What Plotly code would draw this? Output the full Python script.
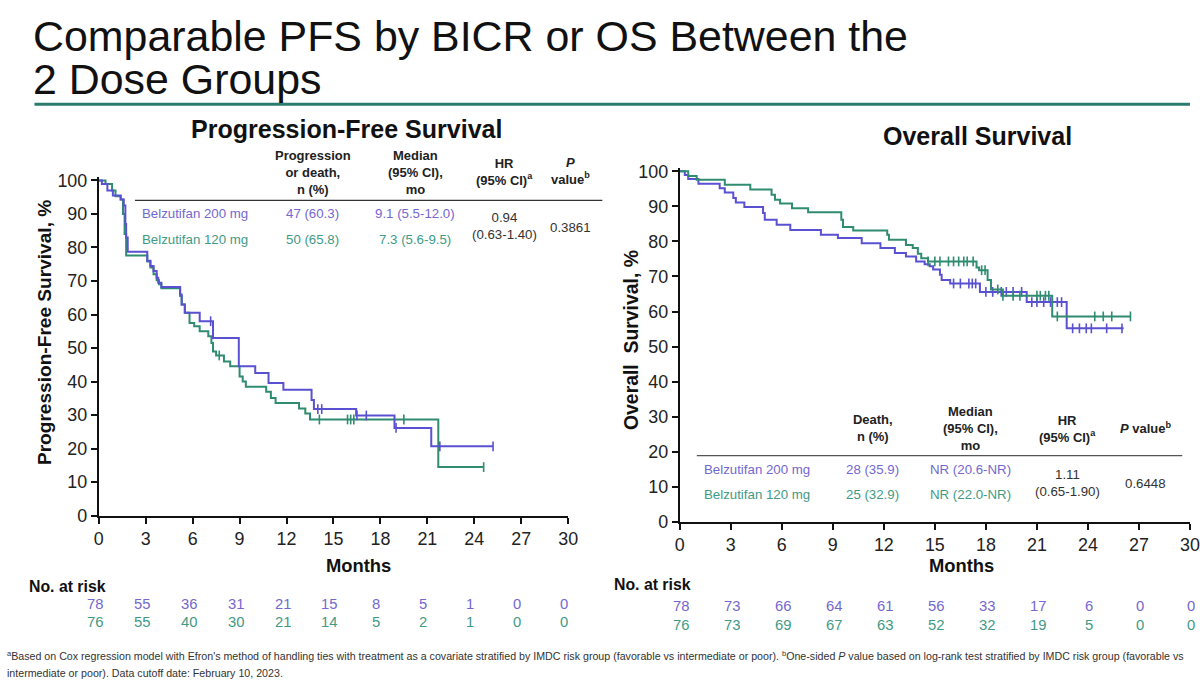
import numpy as np
import plotly.graph_objects as go

# ---------------- data ----------------
months_ticks = list(range(0, 31, 3))

# PFS – Belzutifan 200 mg
pfs200_t = [0, 0.2, 0.55, 0.9, 1.4, 1.6, 1.7, 1.75, 1.85, 3.1, 3.3, 3.5, 3.7, 3.8, 4.0, 5.2, 5.3, 5.5,
            6.45, 7.3, 8.95, 10.0, 10.85, 11.8, 13.6, 13.75, 16.45, 18.9, 21.25, 25.2]
pfs200_s = [100, 98.9, 97, 95.5, 94.3, 92.5, 87, 83, 78.7, 76, 74.5, 73, 71, 69.5, 68.2, 66, 63, 60.5,
            58, 53, 44.6, 42.6, 39.6, 37.6, 34.5, 31.8, 29.9, 26.2, 20.7, 20.7]
pfs200_cens = [7.15, 14.0, 14.25, 16.5, 17.1, 19.0, 21.8, 25.2]

# PFS – Belzutifan 120 mg
pfs120_t = [0, 0.43, 0.85, 1.07, 1.4, 1.55, 1.65, 1.75, 3.1, 3.3, 3.5, 3.7, 3.85, 4.0, 5.2, 5.3, 5.5, 5.8,
            6.1, 6.45, 7.0, 7.2, 7.3, 7.5, 8.0, 8.4, 9.0, 9.2, 9.4, 10.7, 11.0, 11.3, 12.8, 13.2, 13.5, 21.7, 24.6]
pfs120_s = [100, 98.9, 97, 95.3, 94.3, 90, 84, 77.6, 75.8, 74, 72, 70.2, 69, 67.8, 65.5, 63, 60.5, 57.5,
            56.5, 55, 53.5, 51.5, 49, 47.8, 46, 44.6, 41.5, 40, 38.5, 37.0, 35.1, 33.6, 32, 30.5, 28.7, 14.5, 14.5]
pfs120_cens = [7.7, 14.1, 15.9, 16.1, 16.3, 19.5, 24.6]

# OS – Belzutifan 200 mg
os200_t = [0, 0.3, 0.5, 1.1, 2.35, 2.65, 3.15, 3.3, 3.8, 4.9, 5.0, 5.7, 6.5, 8.3, 9.3, 10.7, 11.8, 12.65,
           13.3, 13.9, 14.4, 14.7, 14.9, 15.3, 15.4, 15.9, 17.65, 20.4, 22.75, 26.1]
os200_s = [100, 99, 97.8, 96.5, 95.2, 94, 92.4, 91.1, 89.8, 88.1, 86.2, 84.8, 83.3, 81.9, 81.0, 79.5, 78.1, 76.7,
           75.7, 74.3, 73.5, 72.9, 72, 70.5, 69, 68, 65.6, 62.7, 55.2, 55.2]
os200_cens = [16.1, 16.5, 17.0, 17.2, 17.4, 18.0, 18.4, 18.9, 19.2, 19.6, 20.1, 20.7, 21.0, 21.4, 21.8,
              22.2, 22.45, 23.1, 23.5, 23.9, 24.2, 25.1, 26.0]

# OS – Belzutifan 120 mg
os120_t = [0, 0.5, 1.0, 2.65, 4.15, 5.4, 5.6, 5.9, 6.6, 7.55, 9.5, 9.6, 10.2, 12.2, 12.3, 13.3, 13.7, 14.0,
           14.2, 14.6, 17.45, 17.6, 18.1, 18.3, 19.0, 21.9, 26.5]
os120_s = [100, 98.7, 97.6, 96.2, 94.8, 93.3, 91.9, 90.8, 89.5, 88.3, 86.2, 84.1, 83.1, 81.9, 80.5, 79, 78.1, 76.5,
           75.2, 74.3, 72.6, 71.8, 69, 66.3, 64.5, 58.6, 58.6]
os120_cens = [14.6, 15.0, 15.3, 15.8, 16.1, 16.4, 16.7, 16.9, 17.25, 17.75, 17.95, 18.7, 19.0, 19.6, 20.0,
              21.0, 21.2, 21.5, 21.7, 22.2, 24.4, 24.9, 25.4, 26.5]

pfs_risk_200 = [78, 55, 36, 31, 21, 15, 8, 5, 1, 0, 0]
pfs_risk_120 = [76, 55, 40, 30, 21, 14, 5, 2, 1, 0, 0]
os_risk_200 = [78, 73, 66, 64, 61, 56, 33, 17, 6, 0, 0]
os_risk_120 = [76, 73, 69, 67, 63, 52, 32, 19, 5, 0, 0]

pfs_table_rows = [["Belzutifan 200 mg", "47 (60.3)", "9.1 (5.5-12.0)"],
                  ["Belzutifan 120 mg", "50 (65.8)", "7.3 (5.6-9.5)"]]
pfs_hr = "0.94<br>(0.63-1.40)"
pfs_p = "0.3861"
os_table_rows = [["Belzutifan 200 mg", "28 (35.9)", "NR (20.6-NR)"],
                 ["Belzutifan 120 mg", "25 (32.9)", "NR (22.0-NR)"]]
os_hr = "1.11<br>(0.65-1.90)"
os_p = "0.6448"

title_lines = ["Comparable PFS by BICR or OS Between the", "2 Dose Groups"]
foot_lines = [
    "<sup>a</sup>Based on Cox regression model with Efron's method of handling ties with treatment as a covariate "
    "stratified by IMDC risk group (favorable vs intermediate or poor). <sup>b</sup>One-sided <i>P</i> value based "
    "on log-rank test stratified by IMDC risk group (favorable vs",
    "intermediate or poor). Data cutoff date: February 10, 2023.",
]

# ---------------- layout helpers ----------------
W, H = 1200, 697
# the returned picture maps page pixel p -> SX*p + OX (x) and SY*p + OY (y); positions below are
# given in picture pixels and converted back here
SX, OX = 0.9825, 5.7
SY, OY = 0.976, 6.8
FS = 1 / 0.979  # font scale compensation

FONT = "Liberation Sans, Arial, sans-serif"
C200 = "#5a50d2"
C120 = "#2f8c70"
T200 = "#7368cf"
T120 = "#3f9a86"
TEAL = "#2c7b6f"


def px_x(t):
    return min(max((t - OX) / SX / W, 0.0), 1.0)


def px_y(t):
    return min(max(1 - (t - OY) / SY / H, 0.0), 1.0)


def step_val(ts, ss, t):
    i = np.searchsorted(np.array(ts), t, side="right") - 1
    return ss[max(i, 0)]


fig = go.Figure()


def add_curve(ts, ss, cens, color, xa, ya):
    fig.add_trace(go.Scatter(x=ts, y=ss, mode="lines", line=dict(color=color, width=2, shape="hv"),
                             xaxis=xa, yaxis=ya, showlegend=False, hoverinfo="skip"))
    cy = [step_val(ts, ss, c) for c in cens]
    fig.add_trace(go.Scatter(x=cens, y=cy, mode="markers",
                             marker=dict(symbol="line-ns", size=7, line=dict(color=color, width=1.6)),
                             xaxis=xa, yaxis=ya, showlegend=False, hoverinfo="skip", cliponaxis=False))


add_curve(pfs120_t, pfs120_s, pfs120_cens, C120, "x", "y")
add_curve(pfs200_t, pfs200_s, pfs200_cens, C200, "x", "y")
add_curve(os200_t, os200_s, os200_cens, C200, "x2", "y2")
add_curve(os120_t, os120_s, os120_cens, C120, "x2", "y2")

axis_common = dict(showgrid=False, zeroline=False, showline=True, linecolor="#111", linewidth=2,
                   ticks="outside", ticklen=6, tickwidth=1.5, tickcolor="#111",
                   tickfont=dict(family=FONT, size=17.5 * FS, color="#222"))

pfs_x0, pfs_x30, pfs_bottom, pfs_top100 = 99, 566, 516, 181
os_x0, os_x30, os_bottom, os_top100 = 677, 1186, 522, 172
pfs_scale = (pfs_bottom - pfs_top100) / 100
os_scale = (os_bottom - os_top100) / 100

fig.update_layout(
    width=W, height=H, margin=dict(l=0, r=0, t=0, b=0),
    paper_bgcolor="white", plot_bgcolor="white",
    xaxis=dict(domain=[px_x(pfs_x0), px_x(pfs_x30)], range=[0, 30], tickvals=months_ticks,
               anchor="y", **axis_common),
    yaxis=dict(domain=[px_y(pfs_bottom), px_y(pfs_top100 - 1.0 * pfs_scale)], range=[0, 101],
               tickvals=list(range(0, 101, 10)), anchor="x", **axis_common),
    xaxis2=dict(domain=[px_x(os_x0), px_x(os_x30)], range=[0, 30], tickvals=months_ticks,
                anchor="y2", **axis_common),
    yaxis2=dict(domain=[px_y(os_bottom), px_y(os_top100 - 1.0 * os_scale)], range=[0, 101],
                tickvals=list(range(0, 101, 10)), anchor="x2", **axis_common),
)

ann = []


def text(x, y, s, size=13, color="#222", bold=False, xanchor="center", yanchor="middle", align="center",
         family=FONT, xref="paper", **kw):
    if bold:
        s = "<b>" + s + "</b>"
    ann.append(dict(x=x if xref != "paper" else px_x(x), y=px_y(y), xref=xref, yref="paper", text=s,
                    showarrow=False, xanchor=xanchor, yanchor=yanchor, align=align,
                    font=dict(family=family, size=size * FS, color=color), **kw))


# Title
text(32, 37, title_lines[0], size=42, color="#111", xanchor="left")
text(32, 80, title_lines[1], size=42, color="#111", xanchor="left")

# Subtitles
text(345, 130, "Progression-Free Survival", size=24.5, color="#111", bold=True)
text(973, 137, "Overall Survival", size=24.5, color="#111", bold=True)

# Axis titles
text(357, 566, "Months", size=18, color="#111", bold=True)
text(957, 566, "Months", size=18, color="#111", bold=True)
text(45, 333, "Progression-Free Survival, %", size=18.7, color="#111", bold=True, textangle=-90)
text(628, 340, "Overall\u00a0\u00a0Survival, %", size=19, color="#111", bold=True, textangle=-90)

# PFS table
hdr = 12.7
text(312, 173, "Progression<br>or death,<br>n (%)", size=hdr, color="#222", bold=True)
text(414, 173, "Median<br>(95% CI),<br>mo", size=hdr, color="#222", bold=True)
text(503, 173, "HR<br>(95% CI)<sup>a</sup>", size=hdr, color="#222", bold=True)
text(568, 172, "<i>P</i><br>value<sup>b</sup>", size=hdr, color="#222", bold=True)
for i, (row, col) in enumerate(zip(pfs_table_rows, [T200, T120])):
    yy = 214 + 26 * i
    text(140, yy, row[0], size=13, color=col, xanchor="left")
    text(312, yy, row[1], size=13, color=col)
    text(414, yy, row[2], size=13, color=col)
text(503, 227, pfs_hr, size=13, color="#333")
text(568, 228, pfs_p, size=13, color="#333")

# OS table
text(869, 428, "Death,<br>n (%)", size=hdr, color="#222", bold=True)
text(966, 429, "Median<br>(95% CI),<br>mo", size=hdr, color="#222", bold=True)
text(1063, 429, "HR<br>(95% CI)<sup>a</sup>", size=hdr, color="#222", bold=True)
text(1140, 428, "<i>P</i> value<sup>b</sup>", size=hdr, color="#222", bold=True)
for i, (row, col) in enumerate(zip(os_table_rows, [T200, T120])):
    yy = 470 + 25 * i
    text(699, yy, row[0], size=13, color=col, xanchor="left")
    text(869, yy, row[1], size=13, color=col)
    text(966, yy, row[2], size=13, color=col)
text(1063, 483, os_hr, size=13, color="#333")
text(1140, 484, os_p, size=13, color="#333")

# No. at risk
text(28, 587, "No. at risk", size=15.5, color="#111", bold=True, xanchor="left")
text(610, 585, "No. at risk", size=15.5, color="#111", bold=True, xanchor="left")
for m, a, b in zip(months_ticks, pfs_risk_200, pfs_risk_120):
    text(m, 604, str(a), size=14.5, color=T200, xref="x", xshift=-4)
    text(m, 622, str(b), size=14.5, color=T120, xref="x", xshift=-4)
for m, a, b in zip(months_ticks, os_risk_200, os_risk_120):
    text(m, 606, str(a), size=14.5, color=T200, xref="x2", xshift=1)
    text(m, 625, str(b), size=14.5, color=T120, xref="x2", xshift=1)

# Footnote
for yy, line in zip([656, 673], foot_lines):
    text(0, yy, line, size=10.45, color="#333", xanchor="left", align="left")

fig.update_layout(annotations=ann)

shapes = [
    dict(type="line", xref="paper", yref="paper", x0=px_x(35), x1=1, y0=px_y(105), y1=px_y(105),
         line=dict(color=TEAL, width=3)),
    dict(type="line", xref="paper", yref="paper", x0=px_x(135), x1=px_x(600), y0=px_y(201), y1=px_y(201),
         line=dict(color="#333", width=1.3)),
    dict(type="line", xref="paper", yref="paper", x0=px_x(694), x1=px_x(1177), y0=px_y(456), y1=px_y(456),
         line=dict(color="#555", width=1.3)),
]
fig.update_layout(shapes=shapes)

fig.write_html("out.html")
